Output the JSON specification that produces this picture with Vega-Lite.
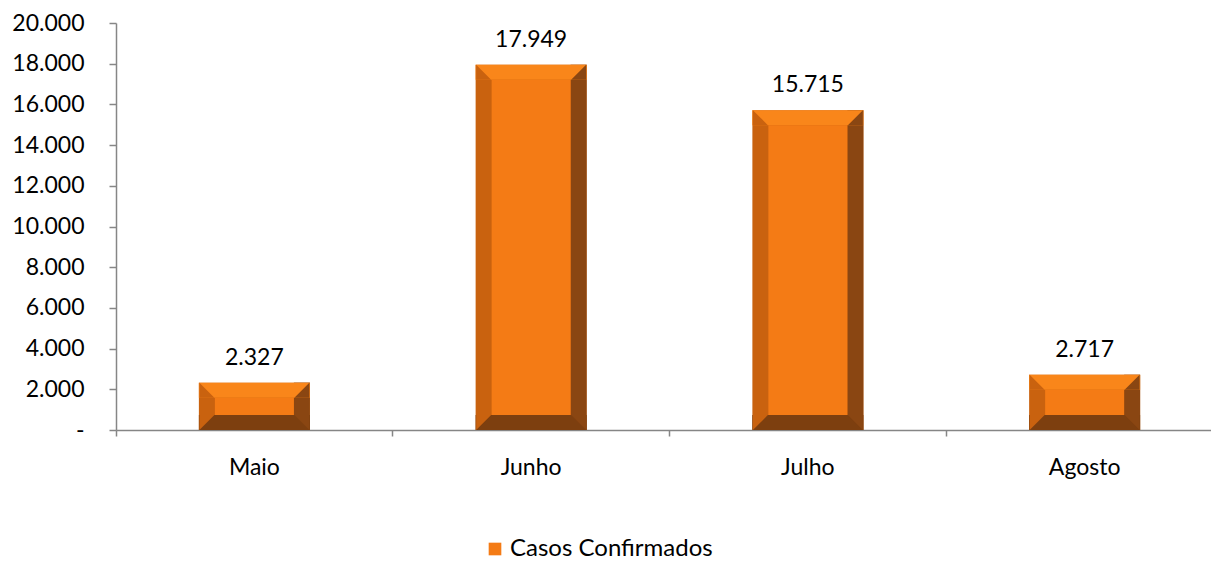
{
  "$schema": "https://vega.github.io/schema/vega-lite/v6.json",
  "width": 1095,
  "height": 407,
  "autosize": "none",
  "padding": {"left": 116, "top": 23, "right": 0, "bottom": 133},
  "data": {"values": [
    {"mes": "Maio", "casos": 2327, "serie": "Casos Confirmados"},
    {"mes": "Junho", "casos": 17949, "serie": "Casos Confirmados"},
    {"mes": "Julho", "casos": 15715, "serie": "Casos Confirmados"},
    {"mes": "Agosto", "casos": 2717, "serie": "Casos Confirmados"}
  ]},
  "encoding": {
    "x": {"field": "mes", "type": "nominal", "sort": null, "title": null,
      "scale": {"range": [0, 1107], "paddingInner": 0, "paddingOuter": 0},
      "axis": {"labelAngle": 0, "bandPosition": 0, "tickSize": 6, "labelPadding": 20, "grid": false}},
    "y": {"field": "casos", "type": "quantitative", "title": null, "stack": null,
      "scale": {"domain": [0, 20000], "nice": false},
      "axis": {"values": [0, 2000, 4000, 6000, 8000, 10000, 12000, 14000, 16000, 18000, 20000],
        "labelExpr": "datum.value == 0 ? '-' : replace(format(datum.value, ','), ',', '.')",
        "grid": false, "tickSize": 7, "labelPadding": 25}}
  },
  "layer": [
    {"mark": {"type": "bar", "width": 111, "color": "#C9620F"}},
    {"mark": {"type": "bar", "width": 16, "xOffset": 47.5, "color": "#8A4612"}},
    {"mark": {"type": "bar", "width": 111, "y2Offset": 15, "color": "#F9861A"},
     "encoding": {"y2": {"field": "casos"}}},
    {"mark": {"type": "bar", "width": 111, "yOffset": -15, "y2Offset": 0, "color": "#7D3F0F"},
     "encoding": {"y": {"datum": 0, "type": "quantitative"}, "y2": {"datum": 0}}},
    {"mark": {"type": "bar", "width": 79, "yOffset": 15, "y2Offset": -15},
     "encoding": {"y2": {"datum": 0},
       "color": {"field": "serie", "type": "nominal",
       "scale": {"range": ["#F47B15"]},
       "legend": {"orient": "none", "legendX": 367, "legendY": 514, "title": null, "padding": 0, "labelLimit": 500,
         "symbolType": "square", "symbolSize": 160, "labelFontSize": 24, "labelOffset": 3, "symbolStrokeWidth": 0}}}},
    {"mark": {"type": "point", "filled": true, "shape": "M-1,-1L1,1L-1,1Z", "size": 225, "xOffset": -47.5, "yOffset": 7.5, "opacity": 1, "color": "#C9620F", "strokeWidth": 0}},
    {"mark": {"type": "point", "filled": true, "shape": "M1,-1L-1,1L1,1Z", "size": 225, "xOffset": 47.5, "yOffset": 7.5, "opacity": 1, "color": "#8A4612", "strokeWidth": 0}},
    {"mark": {"type": "point", "filled": true, "shape": "M-1,-1L1,-1L-1,1Z", "size": 225, "xOffset": -47.5, "yOffset": -7.5, "opacity": 1, "color": "#C9620F", "strokeWidth": 0},
     "encoding": {"y": {"datum": 0, "type": "quantitative"}}},
    {"mark": {"type": "point", "filled": true, "shape": "M-1,-1L1,-1L1,1Z", "size": 225, "xOffset": 47.5, "yOffset": -7.5, "opacity": 1, "color": "#8A4612", "strokeWidth": 0},
     "encoding": {"y": {"datum": 0, "type": "quantitative"}}},
    {"mark": {"type": "text", "dy": -18, "fontSize": 23, "color": "#000000", "baseline": "alphabetic"},
     "encoding": {"text": {"field": "casos", "type": "quantitative", "format": ","}}}
  ],
  "config": {
    "locale": {"number": {"decimal": ",", "thousands": ".", "grouping": [3], "currency": ["R$", ""]}},
    "font": "Lato",
    "view": {"stroke": null},
    "axis": {"labelFont": "Lato", "labelFontSize": 23, "labelColor": "#000000", "domainColor": "#868686", "tickColor": "#868686", "domainWidth": 1.5, "tickWidth": 1.5},
    "legend": {"labelFont": "Lato", "labelColor": "#000000"},
    "text": {"font": "Lato"}
  }
}
